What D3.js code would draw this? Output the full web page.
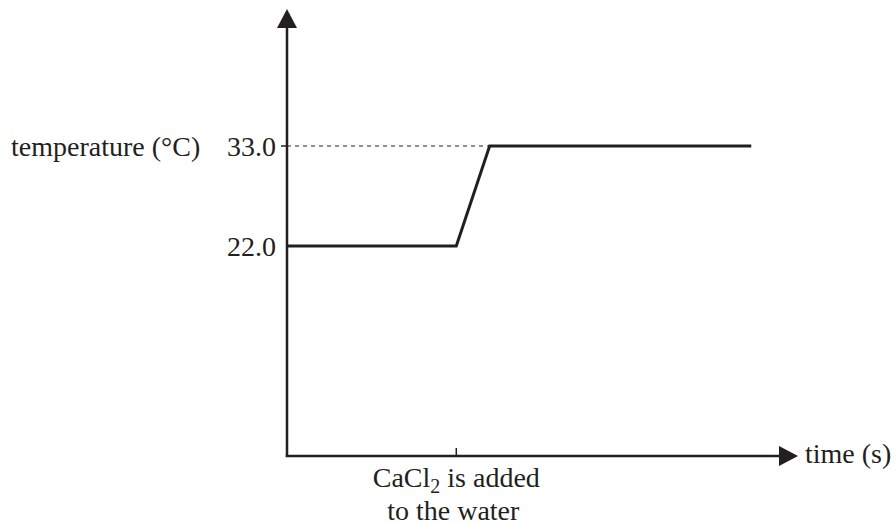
<!DOCTYPE html>
<html>
<head>
<meta charset="utf-8">
<script src="https://cdn.jsdelivr.net/npm/d3@7"></script>
<style>
  html, body { margin: 0; padding: 0; background: #fff; }
  svg text { font-family: "Liberation Serif", "Times New Roman", serif; fill: #231f20; }
</style>
</head>
<body>
<svg id="chart" width="896" height="525"></svg>
<script>
// ---- data ----
const times = [0, 33, 39.5, 90.5];          // arbitrary time units
const temps = [22.0, 22.0, 33.0, 33.0];     // °C
const yTickValues = [22.0, 33.0];
const yTickLabels = ["22.0", "33.0"];
const xEventTime = 33;
const xEventLabel = ["CaCl", "2", " is added"];
const xEventLabel2 = "to the water";
const yAxisTitle = "temperature (°C)";
const xAxisTitle = "time (s)";

const ink = "#231f20";
const svg = d3.select("#chart");

const x = d3.scaleLinear().domain([0, 100]).range([287, 800]);
const y = d3.scaleLinear().domain([22, 33]).range([246, 146]);

const x0 = x(0), yBase = 456, yTop = 9;

// y axis line + arrow
svg.append("line").attr("x1", x0).attr("y1", yBase + 1).attr("x2", x0).attr("y2", yTop + 16)
  .attr("stroke", ink).attr("stroke-width", 2.5);
svg.append("path")
  .attr("d", `M${x0},${yTop} L${x0 - 10},${yTop + 19} L${x0 + 10},${yTop + 19} Z`)
  .attr("fill", ink);

// x axis line + arrow
const xTip = x(100) - 2;
svg.append("line").attr("x1", x0 - 1.25).attr("y1", yBase).attr("x2", xTip - 16).attr("y2", yBase)
  .attr("stroke", ink).attr("stroke-width", 2.5);
svg.append("path")
  .attr("d", `M${xTip},${yBase} L${xTip - 19},${yBase - 10} L${xTip - 19},${yBase + 10} Z`)
  .attr("fill", ink);

// x event tick
svg.append("line").attr("x1", x(xEventTime)).attr("x2", x(xEventTime))
  .attr("y1", yBase).attr("y2", yBase - 8)
  .attr("stroke", ink).attr("stroke-width", 1.5);

// y tick (33.0 small tick to the left)
svg.append("line").attr("x1", x0 - 6).attr("x2", x0).attr("y1", y(33)).attr("y2", y(33))
  .attr("stroke", ink).attr("stroke-width", 1.5);

// dashed guide at 33.0
svg.append("line").attr("x1", x0).attr("x2", x(times[2])).attr("y1", y(33)).attr("y2", y(33))
  .attr("stroke", ink).attr("stroke-width", 1.2).attr("stroke-dasharray", "4,4");

// y tick labels
svg.selectAll(".ylab").data(yTickValues).enter().append("text")
  .attr("class", "ylab")
  .attr("x", 276).attr("y", d => y(d) + 9.8)
  .attr("text-anchor", "end").attr("font-size", 28)
  .text((d, i) => yTickLabels[i]);

// y axis title
svg.append("text").attr("x", 11).attr("y", y(33) + 9.8).attr("font-size", 28).text(yAxisTitle);

// x axis title
svg.append("text").attr("x", 805).attr("y", 463).attr("font-size", 28).text(xAxisTitle);

// x event label
const t1 = svg.append("text").attr("x", x(xEventTime)).attr("y", 487)
  .attr("text-anchor", "middle").attr("font-size", 28);
t1.append("tspan").text(xEventLabel[0]);
t1.append("tspan").attr("font-size", 20).attr("dy", 6).text(xEventLabel[1]);
t1.append("tspan").attr("dy", -6).text(xEventLabel[2]);
svg.append("text").attr("x", x(xEventTime) - 3).attr("y", 520)
  .attr("text-anchor", "middle").attr("font-size", 28).text(xEventLabel2);

// data line
const line = d3.line().x((d, i) => x(times[i])).y(d => y(d));
svg.append("path").datum(temps).attr("d", line)
  .attr("fill", "none").attr("stroke", ink).attr("stroke-width", 3)
  .attr("stroke-linejoin", "miter");
</script>
</body>
</html>
